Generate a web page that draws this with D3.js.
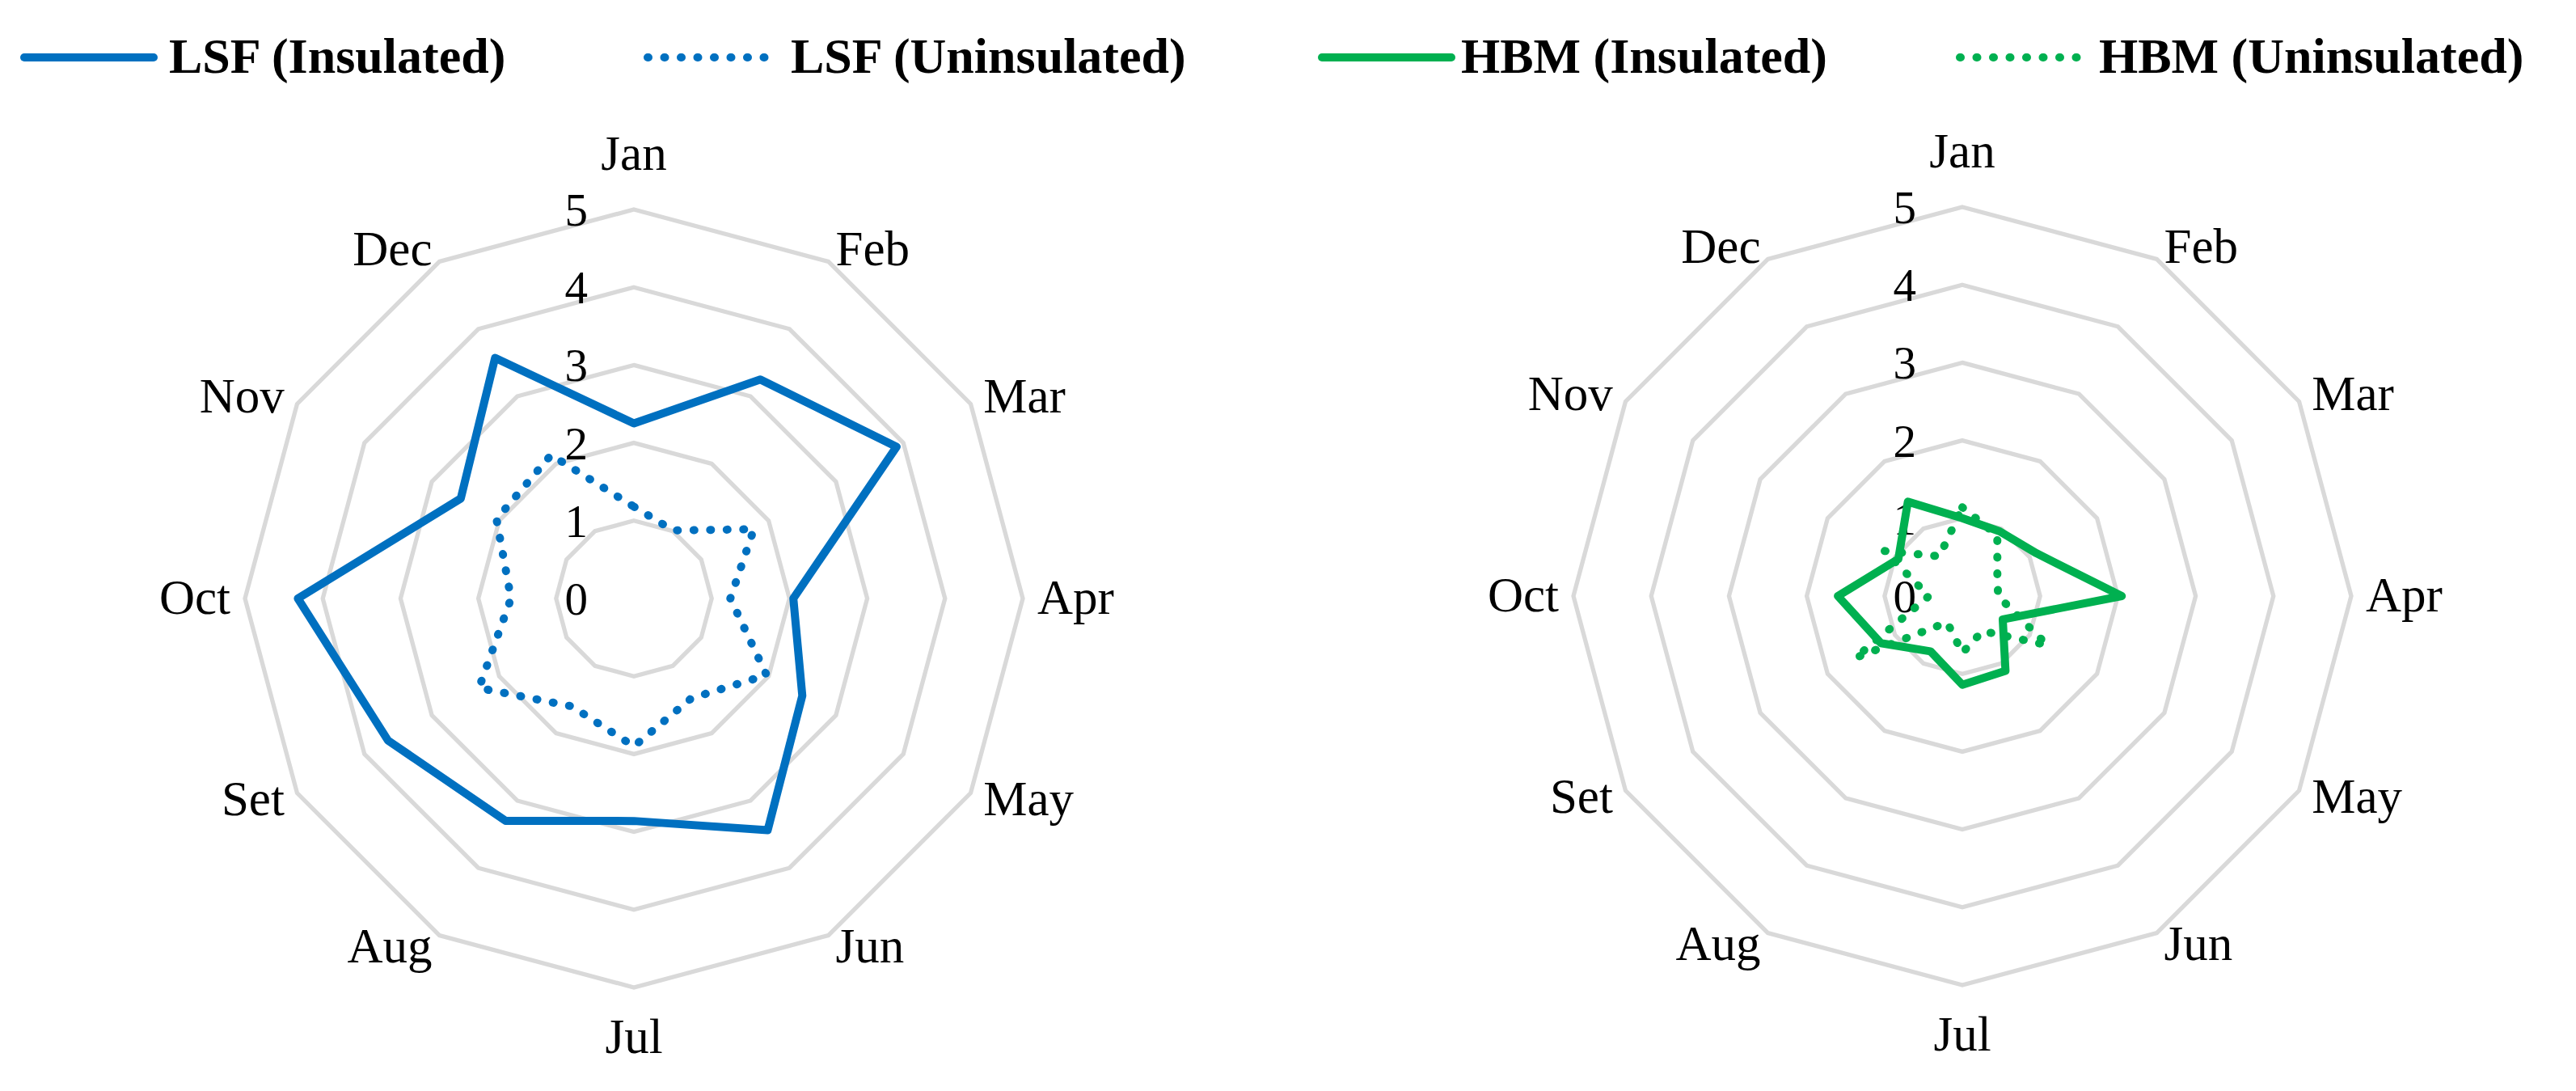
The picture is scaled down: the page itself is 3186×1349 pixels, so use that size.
<!DOCTYPE html>
<html>
<head>
<meta charset="utf-8">
<script src="https://cdnjs.cloudflare.com/ajax/libs/d3/7.8.5/d3.min.js"></script>
<style>
body{margin:0;background:#fff;}
text{font-family:"Liberation Serif","Times New Roman",serif;fill:#000;}
.legend text{font-weight:bold;font-size:62px;}
.month{font-size:61px;}
.tick{font-size:57px;}
</style>
</head>
<body>
<svg id="chart"></svg>
<script>
// months as they appear on the chart (Set = September)
var months = ["Jan","Feb","Mar","Apr","May","Jun","Jul","Aug","Set","Oct","Nov","Dec"];
var ticks = [0,1,2,3,4,5];

var lsfInsulated   = [2.25, 3.25, 3.90, 2.05, 2.50, 3.44, 2.86, 3.30, 3.65, 4.32, 2.57, 3.57];
var lsfUninsulated = [1.18, 1.01, 1.78, 1.24, 1.97, 1.48, 1.90, 1.60, 2.30, 1.58, 2.04, 2.13];
var hbmInsulated   = [1.00, 0.96, 1.10, 2.05, 0.60, 1.11, 1.14, 0.82, 1.21, 1.60, 0.95, 1.40];
var hbmUninsulated = [1.14, 0.90, 0.52, 0.46, 1.26, 0.52, 0.73, 0.39, 1.59, 0.43, 1.16, 0.59];

var legendLabels = ["LSF (Insulated)","LSF (Uninsulated)","HBM (Insulated)","HBM (Uninsulated)"];

var blue = "#0070c0";
var green = "#00b050";

var screen = {width:3186, height:1349};

var svg = d3.select("#chart")
    .attr("width", screen.width)
    .attr("height", screen.height);

svg.append("rect")
    .attr("width", screen.width)
    .attr("height", screen.height)
    .attr("fill", "#fff");

var rScale = d3.scaleLinear()
    .domain([0,5])
    .range([0,481]);

var aScale = d3.scaleLinear()
    .domain([0, months.length])
    .range([0, 2*Math.PI]);

var radarLine = d3.lineRadial()
    .angle(function(d,i){return aScale(i)})
    .radius(function(d){return rScale(d)})
    .curve(d3.curveLinearClosed);

//one radar chart
var drawRadar = function(cx, cy, series)
{
    var g = svg.append("g")
        .attr("transform","translate("+cx+","+cy+")");

    //grid rings
    g.selectAll("path.ring")
        .data(ticks.filter(function(t){return t>0}))
        .enter()
        .append("path")
        .attr("class","ring")
        .attr("d", function(t){return radarLine(months.map(function(){return t}))})
        .attr("fill","none")
        .attr("stroke","#d9d9d9")
        .attr("stroke-width",5.3);

    //value labels
    g.selectAll("text.tick")
        .data(ticks)
        .enter()
        .append("text")
        .attr("class","tick")
        .attr("text-anchor","end")
        .attr("x",-57)
        .attr("y",function(t){return -rScale(t)+20})
        .text(function(t){return t});

    //month labels
    g.selectAll("text.month")
        .data(months)
        .enter()
        .append("text")
        .attr("class","month")
        .each(function(m,i){
            var a = aScale(i);
            var s = Math.sin(a), c = Math.cos(a);
            var vx = rScale(5)*s, vy = -rScale(5)*c;
            var t = d3.select(this);
            if(Math.abs(s) < 0.01)
            {
                t.attr("text-anchor","middle")
                 .attr("x", vx)
                 .attr("y", c > 0 ? vy-49 : vy+81);
            }
            else
            {
                t.attr("text-anchor", s > 0 ? "start" : "end")
                 .attr("x", vx + 18*s)
                 .attr("y", vy + 19 - 17*c);
            }
        })
        .text(function(m){return m});

    //series
    series.forEach(function(sr){
        g.append("path")
            .datum(sr.values)
            .attr("d", radarLine)
            .attr("fill","none")
            .attr("stroke", sr.color)
            .attr("stroke-width", 10)
            .attr("stroke-linejoin","round")
            .attr("stroke-linecap", sr.dotted ? "round" : "butt")
            .attr("stroke-dasharray", sr.dotted ? "1 19.5" : null);
    });
};

drawRadar(784, 740, [
    {values:lsfInsulated, color:blue, dotted:false},
    {values:lsfUninsulated, color:blue, dotted:true}
]);
drawRadar(2427, 737, [
    {values:hbmInsulated, color:green, dotted:false},
    {values:hbmUninsulated, color:green, dotted:true}
]);

//legend
var legendX = [30, 801, 1635, 2424];
var legendTextX = [209, 978, 1807, 2596];
var legendColors = [blue, blue, green, green];
var legend = svg.append("g").attr("class","legend");

legendLabels.forEach(function(lab,i){
    var dotted = lab.indexOf("Uninsulated") >= 0;
    legend.append("line")
        .attr("x1", legendX[i])
        .attr("x2", legendX[i] + (dotted ? 145 : 160))
        .attr("y1", 71)
        .attr("y2", 71)
        .attr("stroke", legendColors[i])
        .attr("stroke-width", 10)
        .attr("stroke-linecap","round")
        .attr("stroke-dasharray", dotted ? "1 19.5" : null);
    legend.append("text")
        .attr("x", legendTextX[i])
        .attr("y", 90)
        .text(lab);
});
</script>
</body>
</html>
